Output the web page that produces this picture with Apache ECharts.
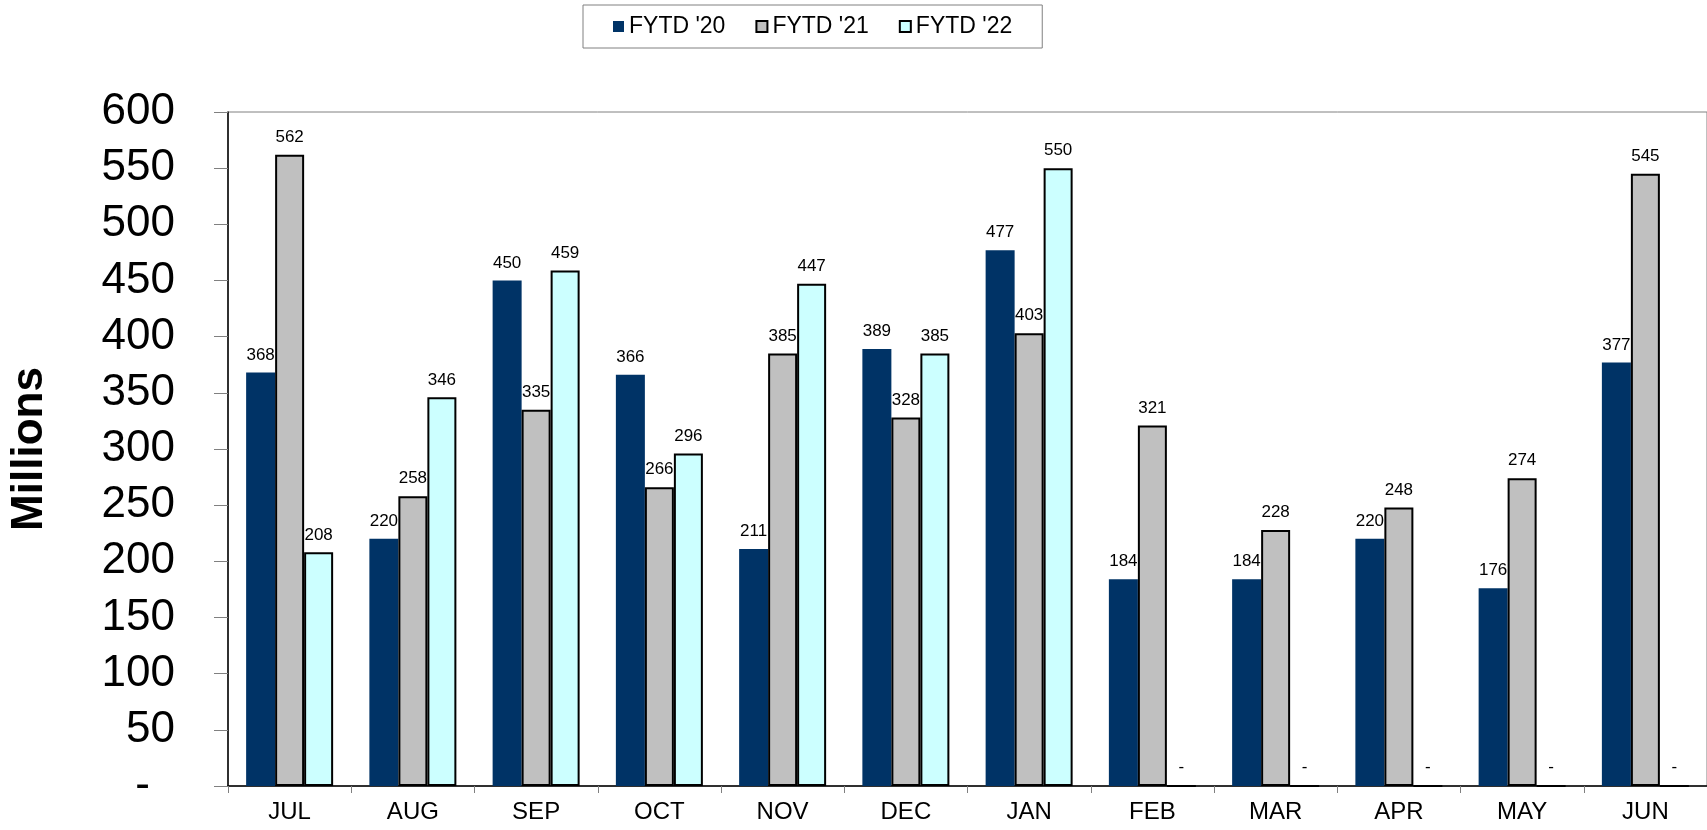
<!DOCTYPE html>
<html>
<head>
<meta charset="utf-8">
<script src="https://cdn.jsdelivr.net/npm/echarts@6/dist/echarts.min.js"></script>
<style>
html,body{margin:0;padding:0;background:#fff;}
#chart{width:1707px;height:830px;}
</style>
</head>
<body>
<div id="chart"></div>
<script>
const categories = ['JUL','AUG','SEP','OCT','NOV','DEC','JAN','FEB','MAR','APR','MAY','JUN'];
const fytd20 = [368, 220, 450, 366, 211, 389, 477, 184, 184, 220, 176, 377];
const fytd21 = [562, 258, 335, 266, 385, 328, 403, 321, 228, 248, 274, 545];
const fytd22 = [208, 346, 459, 296, 447, 385, 550, 0, 0, 0, 0, 0];
const seriesNames = ["FYTD '20", "FYTD '21", "FYTD '22"];

const FONT = "'Liberation Sans', Arial, sans-serif";
const chart = echarts.init(document.getElementById('chart'));

function labelCfg() {
  return {
    show: true,
    position: 'top',
    distance: 9,
    color: '#000',
    fontSize: 17,
    fontFamily: FONT,
    formatter: p => (p.value === 0 ? '-' : p.value)
  };
}

chart.setOption({
  animation: false,
  textStyle: { fontFamily: FONT },
  legend: {
    data: seriesNames,
    left: 583,
    top: 5,
    padding: [10, 30, 10, 30],
    borderColor: '#808080',
    borderWidth: 1,
    backgroundColor: '#fff',
    itemGap: 30,
    itemWidth: 11,
    itemHeight: 11,
    icon: 'rect',
    textStyle: { fontSize: 23, color: '#000', fontFamily: FONT }
  },
  grid: {
    left: 228,
    right: 0,
    top: 112,
    bottom: 44,
    show: true,
    borderColor: '#808080',
    borderWidth: 1,
    containLabel: false
  },
  xAxis: {
    type: 'category',
    data: categories,
    axisLine: { lineStyle: { color: '#000', width: 1.5 } },
    axisTick: { show: true, length: 7, lineStyle: { color: '#808080' } },
    axisLabel: { fontSize: 24, color: '#000', margin: 14, fontFamily: FONT }
  },
  yAxis: {
    type: 'value',
    min: 0,
    max: 600,
    interval: 50,
    name: 'Millions',
    nameLocation: 'middle',
    nameRotate: 90,
    nameGap: 176,
    nameTextStyle: { fontSize: 44, fontWeight: 'bold', color: '#000', fontFamily: FONT },
    axisLine: { show: true, lineStyle: { color: '#000', width: 1.5 } },
    axisTick: { show: true, length: 14, lineStyle: { color: '#808080' } },
    splitLine: { show: false },
    axisLabel: {
      fontSize: 44,
      color: '#000',
      margin: 53,
      fontFamily: FONT,
      formatter: v => (v === 0 ? '{z|-}' : String(v)),
      rich: { z: { fontSize: 44, padding: [0, 25, 0, 0], color: '#000', fontFamily: FONT } }
    }
  },
  series: [
    {
      name: seriesNames[0],
      type: 'bar',
      data: fytd20,
      barWidth: 29,
      barGap: '0%',
      itemStyle: { color: '#003366' },
      label: labelCfg()
    },
    {
      name: seriesNames[1],
      type: 'bar',
      data: fytd21,
      barWidth: 29,
      barGap: '0%',
      itemStyle: { color: '#C0C0C0', borderColor: '#000', borderWidth: 2 },
      label: labelCfg()
    },
    {
      name: seriesNames[2],
      type: 'bar',
      data: fytd22,
      barWidth: 29,
      barGap: '0%',
      itemStyle: { color: '#CCFFFF', borderColor: '#000', borderWidth: 2 },
      label: labelCfg()
    }
  ]
});
</script>
</body>
</html>
